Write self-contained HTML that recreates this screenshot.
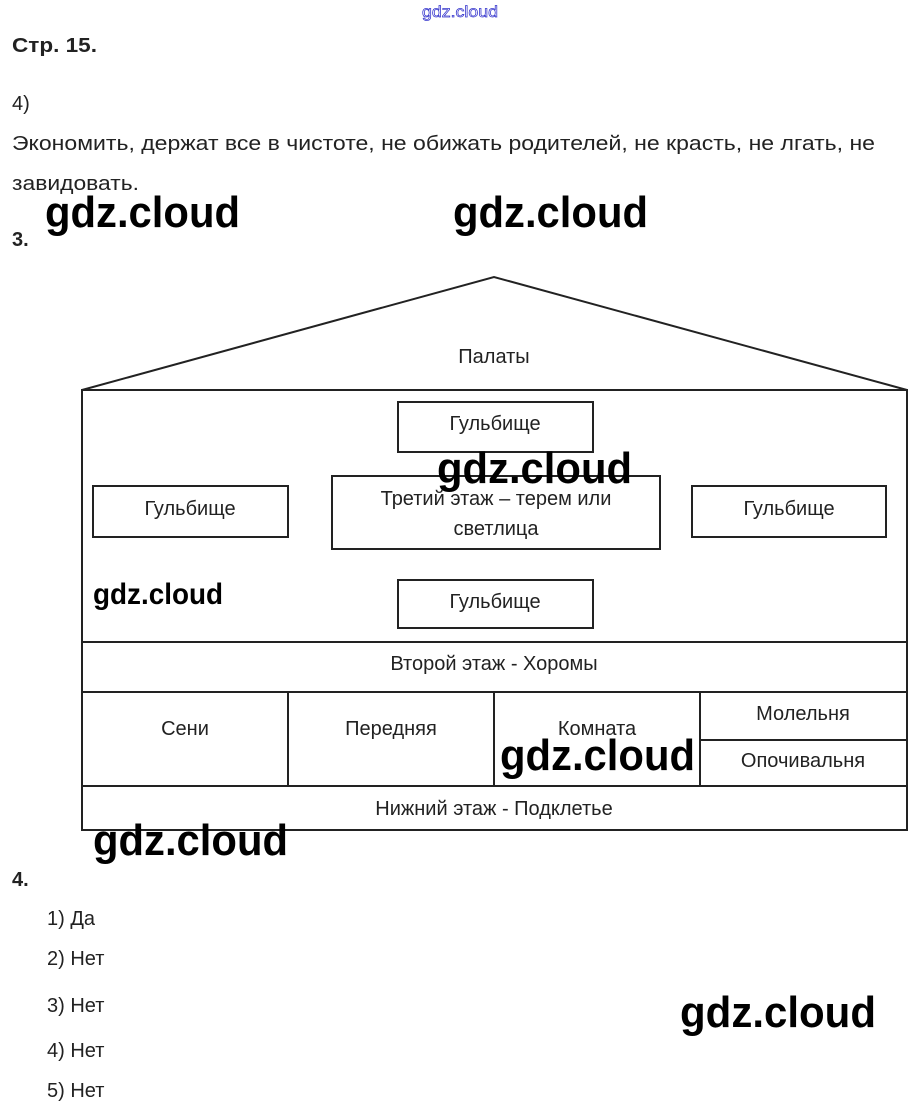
<!DOCTYPE html>
<html><head><meta charset="utf-8"><style>
html,body{margin:0;padding:0;background:#fff;width:920px;height:1114px;overflow:hidden}
svg{display:block}
text{font-family:"Liberation Sans",Arial,sans-serif;fill:#222}
.d{font-size:20px;text-anchor:middle}
.w{font-size:44px;fill:#000;font-weight:bold}
</style></head><body>
<svg width="920" height="1114" viewBox="0 0 920 1114" xmlns="http://www.w3.org/2000/svg">
<text x="422" y="17" font-size="16" style="fill:#fff;stroke:#3333cc;stroke-width:0.7" textLength="76" lengthAdjust="spacingAndGlyphs">gdz.cloud</text>
<text x="12" y="52" font-size="20" font-weight="bold" textLength="85" lengthAdjust="spacingAndGlyphs">Стр. 15.</text>
<text x="12" y="110" font-size="20">4)</text>
<text x="12" y="150" font-size="20" textLength="863" lengthAdjust="spacingAndGlyphs">Экономить, держат все в чистоте, не обижать родителей, не красть, не лгать, не</text>
<text x="12" y="190" font-size="20" textLength="127" lengthAdjust="spacingAndGlyphs">завидовать.</text>
<text x="12" y="246" font-size="20" font-weight="bold">3.</text>
<text x="12" y="886" font-size="20" font-weight="bold">4.</text>
<text x="47" y="925" font-size="20">1) Да</text>
<text x="47" y="965" font-size="20">2) Нет</text>
<text x="47" y="1012" font-size="20">3) Нет</text>
<text x="47" y="1057" font-size="20">4) Нет</text>
<text x="47" y="1097" font-size="20">5) Нет</text>

<g fill="none" stroke="#222" stroke-width="2">
<polyline points="82,390 494,277 907,390"/>
<rect x="82" y="390" width="825" height="440"/>
<rect x="398" y="402" width="195" height="50"/>
<rect x="93" y="486" width="195" height="51"/>
<rect x="332" y="476" width="328" height="73"/>
<rect x="692" y="486" width="194" height="51"/>
<rect x="398" y="580" width="195" height="48"/>
<line x1="82" y1="642" x2="907" y2="642"/>
<line x1="82" y1="692" x2="907" y2="692"/>
<line x1="82" y1="786" x2="907" y2="786"/>
<line x1="288" y1="692" x2="288" y2="786"/>
<line x1="494" y1="692" x2="494" y2="786"/>
<line x1="700" y1="692" x2="700" y2="786"/>
<line x1="700" y1="740" x2="907" y2="740"/>
</g>
<text class="d" x="494" y="363">Палаты</text>
<text class="d" x="495" y="430">Гульбище</text>
<text class="d" x="190" y="515">Гульбище</text>
<text class="d" x="789" y="515">Гульбище</text>
<text class="d" x="496" y="505">Третий этаж – терем или</text>
<text class="d" x="496" y="535">светлица</text>
<text class="d" x="495" y="608">Гульбище</text>
<text class="d" x="494" y="670">Второй этаж - Хоромы</text>
<text class="d" x="185" y="735">Сени</text>
<text class="d" x="391" y="735">Передняя</text>
<text class="d" x="597" y="735">Комната</text>
<text class="d" x="803" y="720">Молельня</text>
<text class="d" x="803" y="767">Опочивальня</text>
<text class="d" x="494" y="815">Нижний этаж - Подклетье</text>

<text class="w" x="45" y="227" textLength="195" lengthAdjust="spacingAndGlyphs">gdz.cloud</text>
<text class="w" x="453" y="227" textLength="195" lengthAdjust="spacingAndGlyphs">gdz.cloud</text>
<text class="w" x="437" y="483" textLength="195" lengthAdjust="spacingAndGlyphs">gdz.cloud</text>
<text x="93" y="604" font-size="30" font-weight="bold" style="fill:#000" textLength="130" lengthAdjust="spacingAndGlyphs">gdz.cloud</text>
<text class="w" x="500" y="770" textLength="195" lengthAdjust="spacingAndGlyphs">gdz.cloud</text>
<text class="w" x="93" y="855" textLength="195" lengthAdjust="spacingAndGlyphs">gdz.cloud</text>
<text class="w" x="680" y="1027" textLength="196" lengthAdjust="spacingAndGlyphs">gdz.cloud</text>
</svg>
</body></html>
